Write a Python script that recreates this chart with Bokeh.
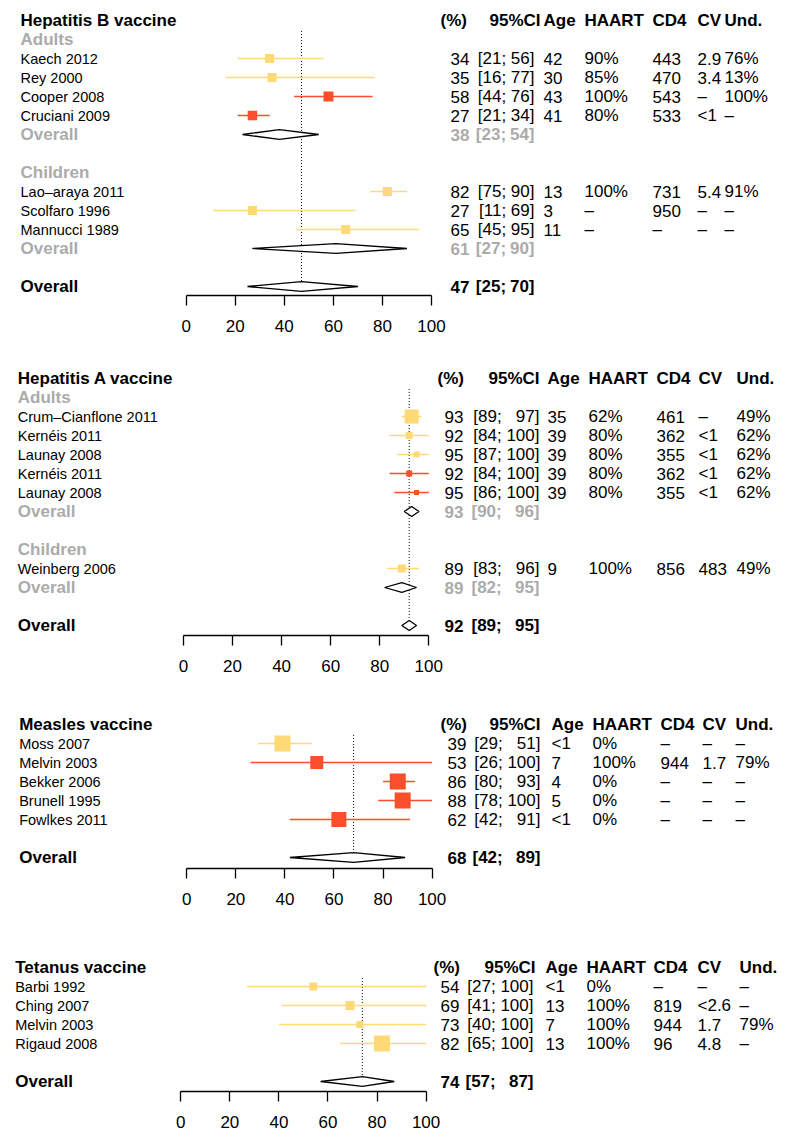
from bokeh.plotting import figure
from bokeh.models import Range1d, FixedTicker
from bokeh.layouts import column
from bokeh.core.properties import value
from bokeh.embed import file_html
from bokeh.resources import INLINE

# ---------------- data ----------------
HEPB_TITLE = "Hepatitis B vaccine"
HEPB_STUDY = ["Kaech 2012", "Rey 2000", "Cooper 2008", "Cruciani 2009",
              "Lao–araya 2011", "Scolfaro 1996", "Mannucci 1989"]
HEPB_GROUP = ["Adults", "Adults", "Adults", "Adults", "Children", "Children", "Children"]
HEPB_EST = [34, 35, 58, 27, 82, 27, 65]
HEPB_LO = [21, 16, 44, 21, 75, 11, 45]
HEPB_HI = [56, 77, 76, 34, 90, 69, 95]
HEPB_KIND = ["y", "y", "r", "r", "y", "y", "y"]
HEPB_WEIGHT = [9, 9, 10, 9.5, 9, 9, 9]
HEPB_AGE = ["42", "30", "43", "41", "13", "3", "11"]
HEPB_HAART = ["90%", "85%", "100%", "80%", "100%", "–", "–"]
HEPB_CD4 = ["443", "470", "543", "533", "731", "950", "–"]
HEPB_CV = ["2.9", "3.4", "–", "<1", "5.4", "–", "–"]
HEPB_UND = ["76%", "13%", "100%", "–", "91%", "–", "–"]
HEPB_SUB = ["Adults", "Children"]
HEPB_SUB_EST = [38, 61]
HEPB_SUB_LO = [23, 27]
HEPB_SUB_HI = [54, 90]
HEPB_ALL = [47, 25, 70]

HEPA_TITLE = "Hepatitis A vaccine"
HEPA_STUDY = ["Crum–Cianflone 2011", "Kernéis 2011", "Launay 2008", "Kernéis 2011",
              "Launay 2008", "Weinberg 2006"]
HEPA_GROUP = ["Adults", "Adults", "Adults", "Adults", "Adults", "Children"]
HEPA_EST = [93, 92, 95, 92, 95, 89]
HEPA_LO = [89, 84, 87, 84, 86, 83]
HEPA_HI = [97, 100, 100, 100, 100, 96]
HEPA_KIND = ["y", "y", "y", "r", "r", "y"]
HEPA_WEIGHT = [14, 7, 6, 6, 5, 8]
HEPA_AGE = ["35", "39", "39", "39", "39", "9"]
HEPA_HAART = ["62%", "80%", "80%", "80%", "80%", "100%"]
HEPA_CD4 = ["461", "362", "355", "362", "355", "856"]
HEPA_CV = ["–", "<1", "<1", "<1", "<1", "483"]
HEPA_UND = ["49%", "62%", "62%", "62%", "62%", "49%"]
HEPA_SUB = ["Adults", "Children"]
HEPA_SUB_EST = [93, 89]
HEPA_SUB_LO = [90, 82]
HEPA_SUB_HI = [96, 95]
HEPA_ALL = [92, 89, 95]

MEAS_TITLE = "Measles vaccine"
MEAS_STUDY = ["Moss 2007", "Melvin 2003", "Bekker 2006", "Brunell 1995", "Fowlkes 2011"]
MEAS_EST = [39, 53, 86, 88, 62]
MEAS_LO = [29, 26, 80, 78, 42]
MEAS_HI = [51, 100, 93, 100, 91]
MEAS_KIND = ["y", "r", "r", "r", "r"]
MEAS_WEIGHT = [16, 13, 16, 16, 15]
MEAS_AGE = ["<1", "7", "4", "5", "<1"]
MEAS_HAART = ["0%", "100%", "0%", "0%", "0%"]
MEAS_CD4 = ["–", "944", "–", "–", "–"]
MEAS_CV = ["–", "1.7", "–", "–", "–"]
MEAS_UND = ["–", "79%", "–", "–", "–"]
MEAS_ALL = [68, 42, 89]

TET_TITLE = "Tetanus vaccine"
TET_STUDY = ["Barbi 1992", "Ching 2007", "Melvin 2003", "Rigaud 2008"]
TET_EST = [54, 69, 73, 82]
TET_LO = [27, 41, 40, 65]
TET_HI = [100, 100, 100, 100]
TET_KIND = ["y", "y", "y", "y"]
TET_WEIGHT = [8, 9, 7, 16]
TET_AGE = ["<1", "13", "7", "13"]
TET_HAART = ["0%", "100%", "100%", "100%"]
TET_CD4 = ["–", "819", "944", "96"]
TET_CV = ["–", "<2.6", "1.7", "4.8"]
TET_UND = ["–", "–", "79%", "–"]
TET_ALL = [74, 57, 87]

HEADERS = ["(%)", "95%CI", "Age", "HAART", "CD4", "CV", "Und."]
TICKS = [0, 20, 40, 60, 80, 100]

# ---------------- style / layout ----------------
YEL = "#FED976"
RED = "#FC4E2A"
GRAY = "#ABABAB"
FONT = value("Liberation Sans")
ROW = 19.0
SCALE = 2.453
LBL_SIZE = "14.5px"
COL_SIZE = "17px"
BOLD_SIZE = "17px"
HALF_D = 0.26
FIG_W = 790

LAYOUTS = [
    dict(top=0, height=358, axis=295, title_y=20, p0=185.7, lx=20, pct_h=440, pct_r=469,
         ci_r=534, ci_h=540, age=543, haart=584, cd4=652, cv=697, und=724),
    dict(top=358, height=342, axis=635, title_y=378, p0=183.0, lx=17.3, pct_h=437, pct_r=463,
         ci_r=539, ci_h=539, age=547, haart=588, cd4=656, cv=698, und=736),
    dict(top=700, height=240, axis=868, title_y=724, p0=186.3, lx=18.7, pct_h=440, pct_r=466,
         ci_r=540, ci_h=540, age=551, haart=592, cd4=660, cv=702, und=735),
    dict(top=940, height=196, axis=1091, title_y=967, p0=180.3, lx=14.7, pct_h=433, pct_r=459,
         ci_r=533, ci_h=535, age=545, haart=586, cd4=653, cv=697, und=739),
]


def make_panel(lay, title, studies, groups, est, lo, hi, kinds, weights,
               age, haart, cd4, cv, und, subs, sub_est, sub_lo, sub_hi, overall):
    def X(px):
        return (px - lay["p0"]) / SCALE

    # row assignment
    study_rows = [0] * len(studies)
    head_rows, sub_rows = [], []
    r = 1
    if subs:
        for g in subs:
            head_rows.append(r)
            r += 1
            for i, gg in enumerate(groups):
                if gg == g:
                    study_rows[i] = r
                    r += 1
            sub_rows.append(r)
            r += 2
    else:
        for i in range(len(studies)):
            study_rows[i] = r
            r += 1
        r += 1
    all_row = r

    top_row = -(lay["title_y"] - lay["top"]) / ROW
    axis_row = (lay["axis"] - lay["title_y"]) / ROW
    border = lay["height"] - (lay["axis"] - lay["top"])

    p = figure(width=FIG_W, height=lay["height"],
               x_range=Range1d(X(0), X(FIG_W)),
               y_range=Range1d(axis_row, top_row),
               output_backend="svg", toolbar_location=None, y_axis_location=None,
               min_border_left=0, min_border_right=0, min_border_top=0,
               min_border_bottom=border)
    p.xgrid.visible = False
    p.ygrid.visible = False
    p.outline_line_color = None
    ax = p.xaxis[0]
    ax.ticker = FixedTicker(ticks=TICKS)
    ax.bounds = (0, 100)
    ax.major_tick_in = 0
    ax.major_tick_out = 10
    ax.minor_tick_in = 0
    ax.minor_tick_out = 0
    ax.axis_line_width = 1.3
    ax.major_tick_line_width = 1.3
    ax.axis_line_color = "black"
    ax.major_tick_line_color = "black"
    ax.major_label_text_font = "Liberation Sans"
    ax.major_label_text_font_size = "17px"
    ax.major_label_text_color = "black"
    ax.major_label_standoff = 14

    # reference line
    p.segment(x0=[overall[0]], x1=[overall[0]], y0=[0.55], y1=[all_row - HALF_D],
              line_color="black", line_width=1, line_dash="1 2")

    colors = [YEL if k == "y" else RED for k in kinds]
    p.segment(x0=lo, x1=hi, y0=study_rows, y1=study_rows, line_color=colors, line_width=1.6)
    p.scatter(x=est, y=study_rows, size=weights, marker="square",
              fill_color=colors, line_color=None)

    # diamonds
    d_est = list(sub_est) + [overall[0]]
    d_lo = list(sub_lo) + [overall[1]]
    d_hi = list(sub_hi) + [overall[2]]
    d_row = list(sub_rows) + [all_row]
    xs = [[l, e, h, e] for e, l, h in zip(d_est, d_lo, d_hi)]
    ys = [[rr, rr - HALF_D, rr, rr + HALF_D] for rr in d_row]
    p.patches(xs=xs, ys=ys, fill_color="white", line_color="black", line_width=1.3)

    def txt(xpx, ys_, texts, align="left", color="black", size=COL_SIZE, style="normal"):
        p.text(x=[X(xpx)] * len(texts), y=ys_, text=texts, text_align=align,
               text_baseline="middle", text_font=FONT, text_font_size=size,
               text_font_style=style, text_color=color)

    # left titles / labels
    txt(lay["lx"], [0], [title], size=BOLD_SIZE, style="bold")
    txt(lay["lx"], study_rows, studies, size=LBL_SIZE)
    if subs:
        txt(lay["lx"], head_rows, list(subs), color=GRAY, size=BOLD_SIZE, style="bold")
        txt(lay["lx"], sub_rows, ["Overall"] * len(subs), color=GRAY, size=BOLD_SIZE, style="bold")
    txt(lay["lx"], [all_row], ["Overall"], size=BOLD_SIZE, style="bold")

    # headers
    txt(lay["pct_h"], [0], [HEADERS[0]], style="bold")
    txt(lay["ci_h"], [0], [HEADERS[1]], align="right", style="bold")
    for key, h in zip(["age", "haart", "cd4", "cv", "und"], HEADERS[2:]):
        txt(lay[key], [0], [h], style="bold")

    # CI split position
    three = any(v >= 100 for v in list(hi) + list(sub_hi) + [overall[2]])
    split = lay["ci_r"] - (37.8 if three else 28.4)

    def est_ci(rows_, e, l, h, color="black", style="normal"):
        txt(lay["pct_r"], rows_, [str(v) for v in e], align="right", color=color, style=style)
        txt(split, rows_, ["[%d;" % v for v in l], align="right", color=color, style=style)
        txt(lay["ci_r"], rows_, ["%d]" % v for v in h], align="right", color=color, style=style)

    est_ci(study_rows, est, lo, hi)
    if subs:
        est_ci(sub_rows, sub_est, sub_lo, sub_hi, color=GRAY, style="bold")
    est_ci([all_row], [overall[0]], [overall[1]], [overall[2]], style="bold")

    for key, vals in zip(["age", "haart", "cd4", "cv", "und"], [age, haart, cd4, cv, und]):
        txt(lay[key], study_rows, vals)
    return p


p1 = make_panel(LAYOUTS[0], HEPB_TITLE, HEPB_STUDY, HEPB_GROUP, HEPB_EST, HEPB_LO, HEPB_HI,
                HEPB_KIND, HEPB_WEIGHT, HEPB_AGE, HEPB_HAART, HEPB_CD4, HEPB_CV, HEPB_UND,
                HEPB_SUB, HEPB_SUB_EST, HEPB_SUB_LO, HEPB_SUB_HI, HEPB_ALL)
p2 = make_panel(LAYOUTS[1], HEPA_TITLE, HEPA_STUDY, HEPA_GROUP, HEPA_EST, HEPA_LO, HEPA_HI,
                HEPA_KIND, HEPA_WEIGHT, HEPA_AGE, HEPA_HAART, HEPA_CD4, HEPA_CV, HEPA_UND,
                HEPA_SUB, HEPA_SUB_EST, HEPA_SUB_LO, HEPA_SUB_HI, HEPA_ALL)
p3 = make_panel(LAYOUTS[2], MEAS_TITLE, MEAS_STUDY, None, MEAS_EST, MEAS_LO, MEAS_HI,
                MEAS_KIND, MEAS_WEIGHT, MEAS_AGE, MEAS_HAART, MEAS_CD4, MEAS_CV, MEAS_UND,
                [], [], [], [], MEAS_ALL)
p4 = make_panel(LAYOUTS[3], TET_TITLE, TET_STUDY, None, TET_EST, TET_LO, TET_HI,
                TET_KIND, TET_WEIGHT, TET_AGE, TET_HAART, TET_CD4, TET_CV, TET_UND,
                [], [], [], [], TET_ALL)

layout = column(p1, p2, p3, p4, spacing=0)
open("out.html", "w").write(file_html(layout, INLINE))
